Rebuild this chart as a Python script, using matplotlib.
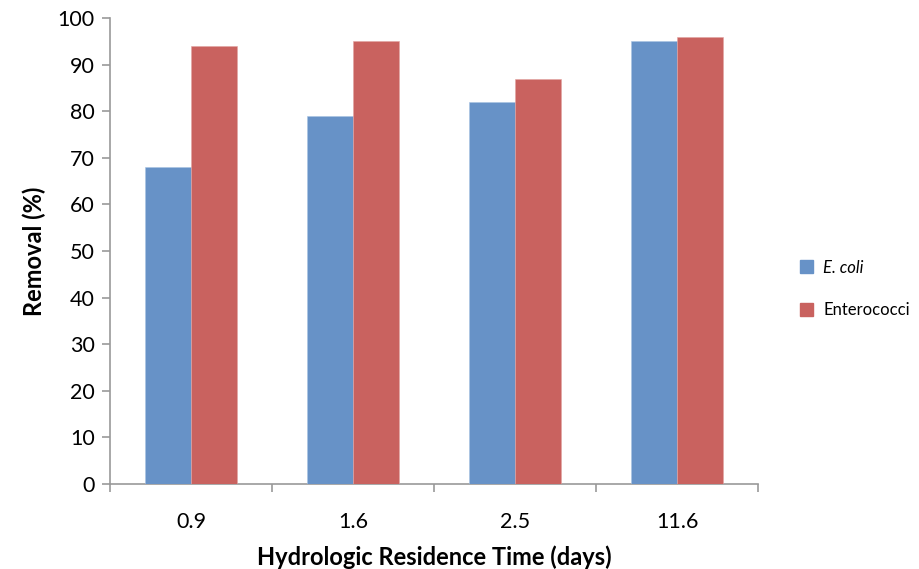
import matplotlib
matplotlib.use("Agg")
import matplotlib.pyplot as plt
import numpy as np
from matplotlib.patches import Patch

categories = ["0.9", "1.6", "2.5", "11.6"]
ecoli = [68, 79, 82, 95]
entero = [94, 95, 87, 96]
series_names = ["E. coli", "Enterococci"]
yticks = list(range(0, 101, 10))

plt.rcParams['font.family'] = ['Lato', 'DejaVu Sans']

fig = plt.figure(figsize=(9.19, 5.69), dpi=100)
ax = fig.add_axes([110/919, 1 - 484/569, (758-110)/919, (484-18)/569])

x = np.arange(len(categories))
w = 0.285
c_blue = "#6792C7"
c_red = "#C9625F"
ax.bar(x - w/2, ecoli, w, color=c_blue, edgecolor="#A9C3E3", linewidth=0.4, zorder=3)
ax.bar(x + w/2, entero, w, color=c_red, edgecolor="#E2A4A2", linewidth=0.4, zorder=3)

ax.set_xlim(-0.5, len(categories) - 0.5)
ax.set_ylim(0, 100)
ax.set_yticks(yticks)
ax.set_yticklabels([str(v) for v in yticks], fontsize=15.5)
ax.set_xticks(x)
ax.set_xticklabels(categories, fontsize=15.5)
ax.tick_params(axis='x', length=0, pad=20)
ax.set_xticks(np.arange(-0.5, len(categories)), minor=True)
ax.tick_params(axis='x', which='minor', length=6, color="#999999", width=1.2)
ax.tick_params(axis='y', length=6, color="#999999", width=1.2, pad=5)

for s in ["top", "right"]:
    ax.spines[s].set_visible(False)
for s in ["left", "bottom"]:
    ax.spines[s].set_color("#999999")
    ax.spines[s].set_linewidth(1.2)

ax.set_ylabel("Removal (%)", fontsize=17, fontweight="bold", labelpad=8)
ax.set_xlabel("Hydrologic Residence Time (days)", fontsize=17, fontweight="bold", labelpad=10)

handles = [Patch(facecolor=c_blue, edgecolor=c_blue), Patch(facecolor=c_red, edgecolor=c_red)]
leg = fig.legend(handles, series_names, loc="center left", bbox_to_anchor=(785/919, 1 - 289/569),
                 frameon=False, fontsize=12, handlelength=0.8, handleheight=0.8,
                 labelspacing=1.6, handletextpad=0.6)
leg.get_texts()[0].set_style("italic")

fig.savefig("out.png", dpi=100)
